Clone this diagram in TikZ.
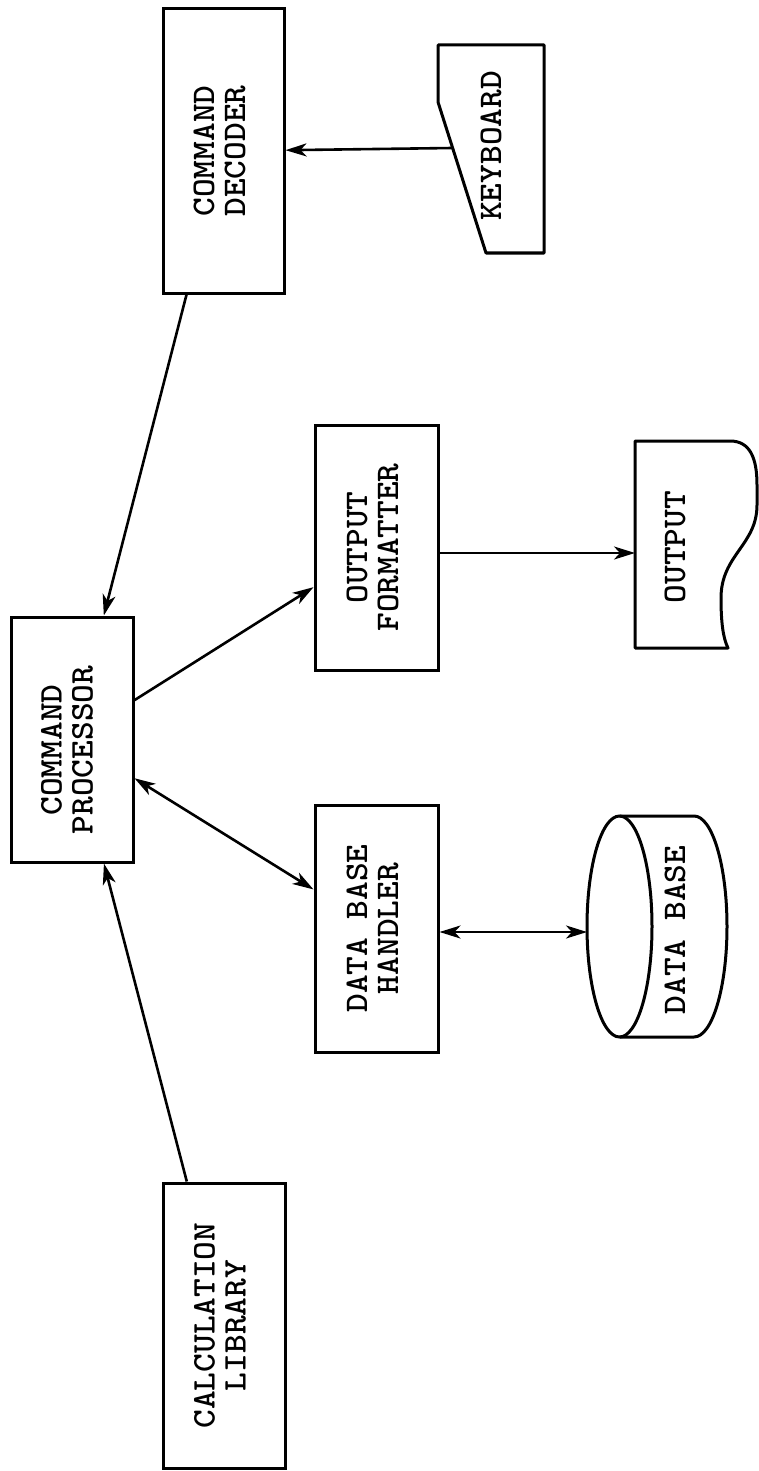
\documentclass[tikz,border=0pt]{standalone}
\usetikzlibrary{arrows.meta}
\newcommand{\lbltext}[1]{\rotatebox{90}{\scalebox{1.08}[1]{\begin{tabular}{@{}c@{}}#1\end{tabular}}}}
\tikzset{
  txt/.style={font=\fontsize{33}{31}\selectfont\ttfamily\bfseries},
  box/.style={draw, line width=3pt, inner sep=0pt, txt},
  lab/.style={inner sep=0pt, txt},
  shp/.style={draw, line width=3pt, line join=round},
  arr/.style={line width=2.6pt, -{Stealth[length=21pt,width=13pt,inset=6pt]}},
  darr/.style={line width=2.6pt, {Stealth[length=21pt,width=13pt,inset=6pt]}-{Stealth[length=21pt,width=13pt,inset=6pt]}}
}
\begin{document}
\begin{tikzpicture}[x=1pt,y=-1pt]
\useasboundingbox (0,0) rectangle (758,1471);
\fill[white] (0,0) rectangle (758,1471);

% rectangular boxes
\node[box, minimum width=121pt, minimum height=284pt] (cd) at (223.5,151) {\lbltext{COMMAND\\DECODER}};
\node[box, minimum width=122pt, minimum height=245pt] (proc) at (72,739.5) {};
\node[lab] (proct) at (71,750) {\lbltext{COMMAND\\PROCESSOR}};
\node[box, minimum width=123pt, minimum height=245pt] (fmt) at (376.5,547.5) {\lbltext{OUTPUT\\FORMATTER}};
\node[box, minimum width=123pt, minimum height=247pt] (dbh) at (376.5,928.5) {\lbltext{DATA BASE\\HANDLER}};
\node[box, minimum width=122pt, minimum height=285pt] (calc) at (224,1325.5) {\lbltext{CALCULATION\\LIBRARY}};

% keyboard (manual input)
\draw[shp] (438,45) -- (544,45) -- (544,253) -- (486,253) -- (438,102) -- cycle;
\node[lab] (kb) at (495,146) {\lbltext{KEYBOARD}};
\coordinate (kbin) at (452.6,148);

% output (document)
\draw[shp] (635,441) -- (730,441) .. controls (750,441) and (757,458) .. (757,485)
  -- (757,505) .. controls (757,545) and (721,555) .. (721,598)
  .. controls (721,622) and (723,638) .. (728,648) -- (635,648) -- cycle;
\node[lab] (out) at (679,547) {\lbltext{OUTPUT}};
\coordinate (outin) at (635,553);

% data base (cylinder)
\draw[shp] (619.5,926.5) ellipse [x radius=32.5, y radius=110.5];
\draw[shp] (619.5,816) -- (694,816) arc [start angle=-90, end angle=90, x radius=33, y radius=110.5] -- (619.5,1037);
\node[lab] (db) at (679,930) {\lbltext{DATA BASE}};
\coordinate (dbin) at (587,932);

% connectors
\draw[arr] (kbin) -- (cd);
\draw[arr] (cd) -- (proc);
\draw[arr] (calc) -- (proc);
\draw[arr] (proc) -- (fmt);
\draw[darr] (proc) -- (dbh);
\draw[arr] (fmt.east |- outin) -- (outin);
\draw[darr] (dbh.east |- dbin) -- (dbin);
\end{tikzpicture}
\end{document}
